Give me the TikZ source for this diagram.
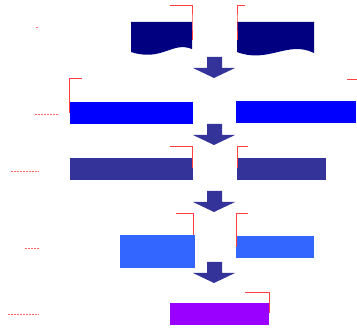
\documentclass[tikz,border=0pt]{standalone}
\usetikzlibrary{arrows,shapes,backgrounds}
\definecolor{navy}{HTML}{000080}
\definecolor{pureblue}{HTML}{0000FF}
\definecolor{indigo}{HTML}{333399}
\definecolor{skyblue}{HTML}{3366FF}
\definecolor{violet}{HTML}{9900FF}
\begin{document}
\begin{tikzpicture}[x=1pt,y=-1pt]
        \tikzstyle{layer}=[rectangle, inner sep=0pt, anchor=north west]
        \tikzstyle{callout}=[draw=red!75, line width=0.8pt]
        \tikzstyle{guide}=[draw=red!60, line width=0.8pt, dash pattern=on 2pt off 1pt]
        \useasboundingbox (0,0) rectangle (357,331);
        % documents on top
        \fill [navy] (131,22) -- (192,22) -- (192,49) .. controls (172,41) and (162,62) .. (131,52) -- cycle;
        \fill [navy] (237,22) -- (314,22) -- (314,53) .. controls (288,40) and (268,64) .. (237,52) -- cycle;
        \coordinate (docl) at (192,22);
        \coordinate (docr) at (237,22);
        % layers
        \node [layer, fill=pureblue, minimum width=123pt, minimum height=22pt] (b2l) at (70,102) {};
        \node [layer, fill=pureblue, minimum width=120pt, minimum height=22pt] (b2r) at (236,101) {};
        \node [layer, fill=indigo, minimum width=123pt, minimum height=22pt] (b3l) at (70,158) {};
        \node [layer, fill=indigo, minimum width=89pt, minimum height=22pt] (b3r) at (237,158) {};
        \node [layer, fill=skyblue, minimum width=75pt, minimum height=33pt] (b4l) at (120,235) {};
        \node [layer, fill=skyblue, minimum width=78pt, minimum height=22pt] (b4r) at (236,236) {};
        \node [layer, fill=violet, minimum width=99pt, minimum height=22pt] (b5) at (170,303) {};
        % arrows between layers
        \foreach \y in {57,124,191,262}
          \fill [indigo] (207,\y) -- (222,\y) -- (222,\y+11) -- (235,\y+11) -- (214,\y+21)
            -- (193,\y+11) -- (207,\y+11) -- cycle;
        % callouts
        \draw [callout] (170,5) -| (docl) -- (192,40);
        \draw [callout] (245,5) -| (docr) -- (237,40);
        \draw [callout] (82,78) -| (69.5,113);
        \draw [callout] (347,79) -- (357,79);
        \draw [callout] (170,146) -| (192,168);
        \draw [callout] (248,146) -| (237,168);
        \draw [callout] (176,213) -| (193,235);
        \draw [callout] (248,213) -| (236,247);
        \draw [callout] (245,292) -| (269,313);
        % guides
        \draw [guide] (36,27) -- (38,27);
        \draw [guide] (35,114) -- (59,114);
        \draw [guide] (11,171) -- (39,171);
        \draw [guide] (25,248) -- (40,248);
        \draw [guide] (8,314) -- (39,314);
\end{tikzpicture}
\end{document}
